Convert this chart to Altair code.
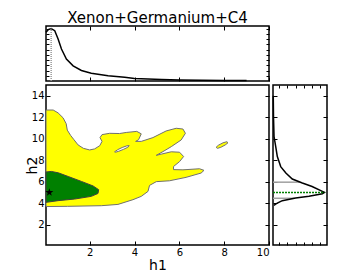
import altair as alt
import pandas as pd

# ---------------- data ----------------
# outer (yellow) credible contour
yel_x = [0.05, 0.05, 0.37, 0.59, 0.81, 0.95, 1.0, 1.15, 1.30, 1.48, 1.72, 2.0, 2.22, 2.45, 2.55,
         2.46, 2.55, 2.89, 3.33, 3.63, 4.1, 4.30, 4.18, 4.05, 4.30, 4.82, 5.41, 5.86, 6.16, 6.27,
         6.08, 5.64, 5.27, 4.97, 5.19, 5.64, 6.01, 6.19, 6.01, 5.74, 5.74, 6.16, 6.90, 7.10, 6.97,
         6.30, 5.56, 4.97, 4.67, 4.6, 4.30, 3.93, 3.26, 2.52, 1.0, 0.05]
yel_y = [3.68, 12.67, 12.67, 12.4, 11.95, 11.4, 10.8, 10.3, 9.9, 9.42, 9.1, 8.95, 9.05, 9.35, 9.75,
         10.1, 10.38, 10.5, 10.48, 10.58, 10.68, 10.45, 9.9, 9.75, 9.75, 10.1, 10.72, 10.97, 10.9, 10.5,
         9.88, 9.26, 8.8, 8.45, 8.56, 8.78, 8.74, 8.34, 7.87, 7.41, 7.12, 7.1, 7.2, 7.05, 6.8,
         6.4, 6.08, 6.0, 5.65, 5.09, 4.63, 4.32, 3.88, 3.76, 3.7, 3.68]
# hole inside the yellow contour
hole_x = [3.11, 3.25, 3.45, 3.65, 3.76, 3.70, 3.50, 3.30, 3.15, 3.11]
hole_y = [8.78, 8.98, 9.18, 9.33, 9.36, 9.20, 9.00, 8.83, 8.74, 8.78]
# small island of the yellow contour
isl_x = [7.64, 7.75, 7.95, 8.12, 8.17, 8.05, 7.85, 7.70, 7.64]
isl_y = [9.20, 9.40, 9.62, 9.72, 9.62, 9.42, 9.20, 9.10, 9.20]
# inner (green) credible contour
grn_x = [0.05, 0.05, 0.29, 0.6, 1.04, 1.63, 2.15, 2.40, 2.37, 2.07, 1.33, 0.59, 0.05]
grn_y = [4.07, 6.9, 6.95, 6.82, 6.48, 6.02, 5.6, 5.25, 4.9, 4.63, 4.38, 4.23, 4.07]
# best-fit point
star_x = [0.2]
star_y = [5.0]

# marginal of h1 (top panel)
top_h1 = [0.05, 0.15, 0.28, 0.44, 0.59, 0.74, 0.96, 1.26, 1.63, 2.07, 2.82, 3.56, 4.0, 5.2, 6.0, 7.0, 8.0, 9.0]
top_p = [0.93, 0.98, 1.0, 0.96, 0.80, 0.61, 0.42, 0.29, 0.20, 0.147, 0.10, 0.07, 0.05, 0.03, 0.02, 0.015, 0.01, 0.008]
top_mark_x = [0.28]
top_mark_p = [1.0]

# marginal of h2 (right panel)
side_h2 = [3.8, 3.9, 4.0, 4.23, 4.47, 4.63, 4.88, 5.0, 5.09, 5.55, 5.87, 6.24, 6.8, 7.4, 8.34, 9.26, 10.2, 12.0, 14.0]
side_p = [0.02, 0.05, 0.084, 0.18, 0.44, 0.70, 0.96, 1.0, 0.96, 0.76, 0.57, 0.375, 0.25, 0.15, 0.084, 0.053, 0.02, 0.01, 0.005]
ci_h2 = [4.45, 5.95]
ci_p = [0.42, 0.52]
best_h2 = [5.0]
best_p = [1.0]

# axes
x_ticks = [2, 4, 6, 8, 10]
y_ticks = [2, 4, 6, 8, 10, 12, 14]
top_p_ticks = [0.1, 0.2, 0.3, 0.4, 0.5, 0.6, 0.7, 0.8, 0.9, 1.0]
side_p_ticks = [0.12, 0.28, 0.44, 0.6, 0.76, 0.92]
X_DOM = [0.05, 10]
Y_DOM = [0.1, 15]
P_DOM = [0, 1.05]

FONT = "DejaVu Sans"

xs = alt.Scale(domain=X_DOM, nice=False, zero=False)
ys = alt.Scale(domain=Y_DOM, nice=False, zero=False)
ps = alt.Scale(domain=P_DOM, nice=False, zero=False)


def tick_axis(orient, values, size=4):
    return alt.Axis(orient=orient, values=values, labels=False, title=None, grid=False,
                    domain=False, ticks=True, tickSize=size, offset=-size,
                    tickColor="black", tickWidth=1, minExtent=0)


def poly_df(xv, yv):
    return pd.DataFrame({"x": xv, "y": yv, "i": list(range(len(xv)))})


def poly(xv, yv, fill, stroke, sw, xaxis=None, yaxis=None):
    return alt.Chart(poly_df(xv, yv)).mark_line(
        fill=fill, stroke=stroke, strokeWidth=sw, strokeJoin="round"
    ).encode(
        x=alt.X("x:Q", scale=xs, axis=xaxis),
        y=alt.Y("y:Q", scale=ys, axis=yaxis),
        order="i:Q",
    )


main_xaxis = alt.Axis(values=x_ticks, format="d", title="h1", grid=False, domain=False,
                      tickSize=4, offset=-4, labelPadding=2, labelFontSize=10,
                      titleFontSize=14, titlePadding=1, labelFont=FONT, titleFont=FONT,
                      titleFontWeight="normal", labelColor="black", titleColor="black",
                      tickColor="black")
main_yaxis = alt.Axis(values=y_ticks, format="d", title="h2", grid=False, domain=False,
                      tickSize=4, offset=-4, labelPadding=2, labelFontSize=10,
                      titleFontSize=14, labelFont=FONT, titleFont=FONT,
                      titleFontWeight="normal", labelColor="black", titleColor="black",
                      tickColor="black", titleX=-18, titleY=80, titleBaseline="middle",
                      titleAlign="center", titleAngle=270)

yellow = poly(yel_x, yel_y, "#ffff00", "#707070", 1, main_xaxis, main_yaxis)
hole = poly(hole_x, hole_y, "white", "#707070", 1)
island = poly(isl_x, isl_y, "#ffff00", "#707070", 1)
green = poly(grn_x, grn_y, "#008000", "#404040", 1)

star_path = ("M0,-1L0.235,-0.324L0.951,-0.309L0.38,0.124L0.588,0.809L0,0.4L-0.588,0.809"
             "L-0.38,0.124L-0.951,-0.309L-0.235,-0.324Z")
star = alt.Chart(pd.DataFrame({"x": star_x, "y": star_y})).mark_point(
    shape=star_path, filled=True, color="black", size=70, opacity=1
).encode(x=alt.X("x:Q", scale=xs, axis=None), y=alt.Y("y:Q", scale=ys, axis=None))

main_ticks = alt.Chart(pd.DataFrame({"y": Y_DOM})).mark_point(opacity=0).encode(
    y=alt.Y("y:Q", scale=ys, axis=tick_axis("right", y_ticks))
)

main = alt.layer(yellow, hole, island, green, star, main_ticks).resolve_axis(
    x="independent", y="independent"
).properties(width=223, height=160)

# ---- top marginal ----
top_df = pd.DataFrame({"x": top_h1, "p": top_p})
top_curve = alt.Chart(top_df).mark_line(color="black", strokeWidth=1.5).encode(
    x=alt.X("x:Q", scale=xs, axis=tick_axis("bottom", x_ticks)),
    y=alt.Y("p:Q", scale=ps, axis=tick_axis("left", top_p_ticks, 3)),
)
top_mark = alt.Chart(pd.DataFrame({"x": top_mark_x, "p": top_mark_p, "p0": [0.0]})).mark_rule(
    color="#999999", strokeDash=[1, 1], strokeWidth=1.5
).encode(x=alt.X("x:Q", scale=xs, axis=None),
         y=alt.Y("p0:Q", scale=ps, axis=None), y2=alt.Y2("p:Q"))
top_ticks = alt.Chart(pd.DataFrame({"x": X_DOM, "p": P_DOM})).mark_point(opacity=0).encode(
    x=alt.X("x:Q", scale=xs, axis=tick_axis("top", x_ticks)),
    y=alt.Y("p:Q", scale=ps, axis=tick_axis("right", top_p_ticks, 3)),
)
top = alt.layer(top_curve, top_mark, top_ticks).resolve_axis(
    x="independent", y="independent"
).properties(
    width=223, height=55,
    title=alt.TitleParams("Xenon+Germanium+C4", fontSize=15, font=FONT, fontWeight="normal",
                          color="black", anchor="middle", baseline="alphabetic", offset=-15),
)

# ---- right marginal ----
side_df = pd.DataFrame({"p": side_p, "y": side_h2, "i": list(range(len(side_p)))})
side_curve = alt.Chart(side_df).mark_line(color="black", strokeWidth=1.5).encode(
    x=alt.X("p:Q", scale=ps, axis=tick_axis("bottom", side_p_ticks, 3)),
    y=alt.Y("y:Q", scale=ys, axis=tick_axis("left", y_ticks)),
    order="i:Q",
)
ci_rules = alt.Chart(pd.DataFrame({"p": ci_p, "y": ci_h2, "p0": [0.0, 0.0]})).mark_rule(
    color="#a0a0a0", strokeWidth=1.5
).encode(x=alt.X("p0:Q", scale=ps, axis=None), x2=alt.X2("p:Q"),
         y=alt.Y("y:Q", scale=ys, axis=None))
best_rule = alt.Chart(pd.DataFrame({"p": best_p, "y": best_h2, "p0": [0.0]})).mark_rule(
    color="#008000", strokeWidth=1.5, strokeDash=[2, 1]
).encode(x=alt.X("p0:Q", scale=ps, axis=None), x2=alt.X2("p:Q"),
         y=alt.Y("y:Q", scale=ys, axis=None))
side_ticks = alt.Chart(pd.DataFrame({"p": P_DOM, "y": [Y_DOM[0], Y_DOM[1]]})).mark_point(opacity=0).encode(
    x=alt.X("p:Q", scale=ps, axis=tick_axis("top", side_p_ticks, 3)),
    y=alt.Y("y:Q", scale=ys, axis=tick_axis("right", y_ticks)),
)
side = alt.layer(ci_rules, side_curve, best_rule, side_ticks).resolve_axis(
    x="independent", y="independent"
).properties(width=54, height=160)

bottom_row = alt.hconcat(main, side, spacing=4, bounds="flush")
chart = alt.vconcat(top, bottom_row, spacing=4, bounds="flush").properties(
    padding={"left": 16, "top": 2, "right": 5, "bottom": 0}
).configure_view(stroke="black", strokeWidth=1.5).configure_axis(
    labelFont=FONT, titleFont=FONT
)

chart.save("out.html", embed_options={"renderer": "svg", "actions": False})
